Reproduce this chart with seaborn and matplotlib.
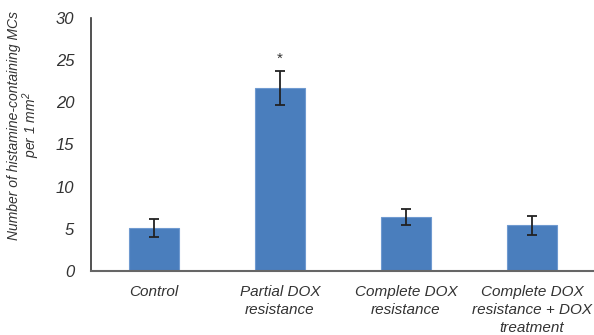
import matplotlib
matplotlib.use("Agg")
import matplotlib.pyplot as plt
import seaborn as sns
import pandas as pd
from matplotlib import font_manager

categories = ["Control", "Partial DOX\nresistance", "Complete DOX\nresistance", "Complete DOX\nresistance + DOX\ntreatment"]
values = [5.1, 21.7, 6.4, 5.4]
errors = [1.1, 2.0, 1.0, 1.1]
yticks = [0, 5, 10, 15, 20, 25, 30]
ylabel = "Number of histamine-containing MCs\nper 1 mm$^2$"
annotations = ["", "*", "", ""]

sns.set_theme(style="white")
names = {f.name for f in font_manager.fontManager.ttflist}
fam = "Liberation Sans Narrow" if "Liberation Sans Narrow" in names else "Liberation Sans"
plt.rcParams['font.family'] = [fam, 'DejaVu Sans']
plt.rcParams['mathtext.fontset'] = 'custom'
plt.rcParams['mathtext.rm'] = fam + ':italic'
plt.rcParams['mathtext.it'] = fam + ':italic'

df = pd.DataFrame({"cat": categories, "val": values})

fig = plt.figure(figsize=(5.94, 3.35), dpi=100)
ax = fig.add_axes([91/594, 64/335, 504/594, 253/335])
sns.barplot(data=df, x="cat", y="val", color="#4A7EBD", width=0.4, ax=ax,
            saturation=1, edgecolor="#6F9AD0", linewidth=0.8, errorbar=None)
ax.errorbar(range(len(values)), values, yerr=errors, fmt="none", ecolor="#222222",
            elinewidth=1.3, capsize=3.3, capthick=1.3)
for i, (v, e, a) in enumerate(zip(values, errors, annotations)):
    if a:
        ax.text(i, v + e + 0.6, a, ha="center", va="bottom", fontsize=11, color="#333333")

ax.set_xlim(-0.5, 3.5)
ax.set_ylim(0, 30)
ax.set_yticks(yticks)
ax.set_yticklabels([str(t) for t in yticks], fontsize=12, style="italic", color="#333333")
ax.set_xticks(range(len(categories)))
ax.set_xticklabels(categories, fontsize=11, style="italic", color="#333333", linespacing=1.38)
ax.tick_params(axis="x", length=0, pad=10)
ax.tick_params(axis="y", length=0, pad=12)
ax.set_xlabel("")
ax.set_ylabel(ylabel, fontsize=10, style="italic", color="#333333", linespacing=0.95)
ax.yaxis.set_label_coords(-0.097, 0.577)
for s in ["top", "right"]:
    ax.spines[s].set_visible(False)
ax.spines["left"].set_color("#333333")
ax.spines["left"].set_linewidth(1.2)
ax.spines["bottom"].set_color("#666666")
ax.spines["bottom"].set_linewidth(1.5)

fig.savefig("out.png", dpi=100)
